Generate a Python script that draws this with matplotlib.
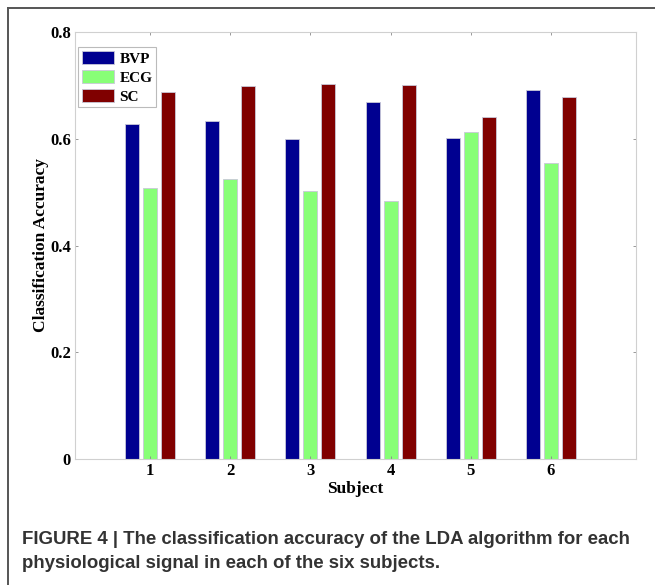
import numpy as np
import matplotlib
matplotlib.use('Agg')
import matplotlib.pyplot as plt
from matplotlib.lines import Line2D

subjects = [1, 2, 3, 4, 5, 6]
bvp = [0.628, 0.634, 0.599, 0.669, 0.602, 0.691]
ecg = [0.508, 0.525, 0.502, 0.483, 0.613, 0.555]
sc = [0.688, 0.698, 0.703, 0.701, 0.641, 0.679]
series_names = ['BVP', 'ECG', 'SC']
yticks = [0, 0.2, 0.4, 0.6, 0.8]
ytick_labels = ['0', '0.2', '0.4', '0.6', '0.8']

colors = ['#000090', '#88FF77', '#800000']
serif = 'Liberation Serif'

fig = plt.figure(figsize=(6.55, 5.85), dpi=100)
ax = fig.add_axes([75 / 655, 1 - 459 / 585, (636 - 75) / 655, (459 - 32) / 585])

x = np.array(subjects, dtype=float)
width = 0.175
offset = 0.225
for i, (vals, name) in enumerate(zip([bvp, ecg, sc], series_names)):
    ax.bar(x + (i - 1) * offset, vals, width, color=colors[i], label=name,
           edgecolor='#c8c8d8', linewidth=0.6)

ax.set_xlim(0.065, 7.06)
ax.set_ylim(0, 0.8)
ax.set_xticks(subjects)
ax.set_xticklabels([str(s) for s in subjects])
ax.set_yticks(yticks)
ax.set_yticklabels(ytick_labels)
ax.tick_params(direction='in', length=2, width=0.6, color='#888888',
               top=True, right=True)
ax.tick_params(axis='y', pad=3)
ax.tick_params(axis='x', pad=3)
for lab in ax.get_xticklabels() + ax.get_yticklabels():
    lab.set_fontfamily(serif)
    lab.set_fontweight('bold')
    lab.set_fontsize(12)
for s in ax.spines.values():
    s.set_color('#d0d0d0')
    s.set_linewidth(0.8)

ax.set_xlabel('Subject', fontfamily=serif, fontweight='bold', fontsize=12.5, labelpad=1)
ax.set_ylabel('Classification Accuracy', fontfamily=serif, fontweight='bold',
              fontsize=12.5, labelpad=1)

leg = ax.legend(loc='upper left', bbox_to_anchor=(0.006, 0.965), fancybox=False,
                prop={'family': serif, 'weight': 'bold', 'size': 11},
                handlelength=2.1, handleheight=1.0, labelspacing=0.25,
                borderpad=0.25, handletextpad=0.35, borderaxespad=0.0)
leg.get_frame().set_edgecolor('#aaaaaa')
leg.get_frame().set_linewidth(0.8)

# outer frame of the figure panel (left and top edges)
fig.add_artist(Line2D([8 / 655, 8 / 655], [0, 1 - 8 / 585], color='#555555', lw=1.4))
fig.add_artist(Line2D([8 / 655, 1], [1 - 8 / 585, 1 - 8 / 585], color='#555555', lw=1.4))

fig.text(22 / 655, 1 - 540 / 585,
         'FIGURE 4 | The classification accuracy of the LDA algorithm for each',
         fontfamily='Liberation Sans', fontweight='bold', fontsize=13.4,
         color='#333333', va='center')
fig.text(22 / 655, 1 - 564 / 585,
         'physiological signal in each of the six subjects.',
         fontfamily='Liberation Sans', fontweight='bold', fontsize=13.4,
         color='#333333', va='center')

fig.savefig('out.png', dpi=100)
